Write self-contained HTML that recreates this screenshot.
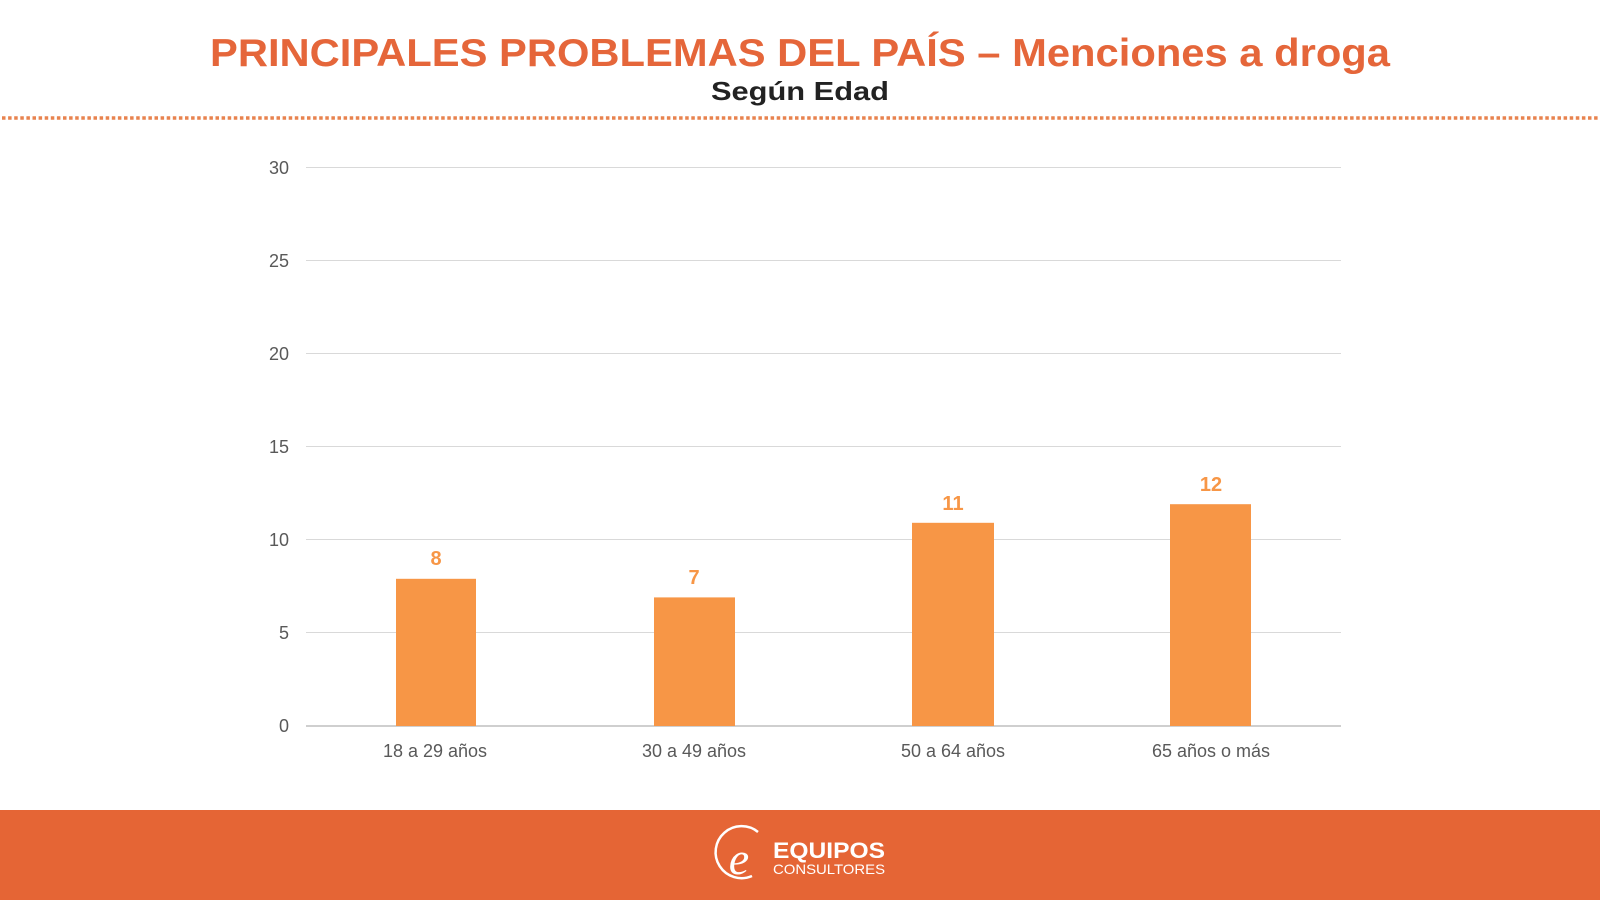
<!DOCTYPE html>
<html><head><meta charset="utf-8"><style>
html,body{margin:0;padding:0;background:#fff;}
svg{display:block;}
</style></head><body>
<svg width="1600" height="900" viewBox="0 0 1600 900" xmlns="http://www.w3.org/2000/svg" font-family="Liberation Sans, sans-serif">
<rect width="1600" height="900" fill="#fff"/>
<text x="800" y="66" text-anchor="middle" font-size="39" font-weight="bold" fill="#E5663A" textLength="1180" lengthAdjust="spacingAndGlyphs">PRINCIPALES PROBLEMAS DEL PAÍS – Menciones a droga</text>
<text x="800" y="100" text-anchor="middle" font-size="26" font-weight="bold" fill="#222" textLength="178" lengthAdjust="spacingAndGlyphs">Según Edad</text>
<line x1="2" y1="118" x2="1600" y2="118" stroke="#E8834F" stroke-width="3.5" stroke-dasharray="3.5 2.6"/>
<g stroke="#d9d9d9" stroke-width="1">
<line x1="306" y1="167.5" x2="1341" y2="167.5"/>
<line x1="306" y1="260.5" x2="1341" y2="260.5"/>
<line x1="306" y1="353.5" x2="1341" y2="353.5"/>
<line x1="306" y1="446.5" x2="1341" y2="446.5"/>
<line x1="306" y1="539.5" x2="1341" y2="539.5"/>
<line x1="306" y1="632.5" x2="1341" y2="632.5"/>
</g>
<line x1="306" y1="726" x2="1341" y2="726" stroke="#bfbfbf" stroke-width="1.5"/>
<g font-size="18" fill="#595959" text-anchor="end">
<text x="289" y="174">30</text>
<text x="289" y="267">25</text>
<text x="289" y="360">20</text>
<text x="289" y="453">15</text>
<text x="289" y="546">10</text>
<text x="289" y="639">5</text>
<text x="289" y="732">0</text>
</g>
<g fill="#F79646">
<rect x="396" y="578.8" width="80" height="147.2"/>
<rect x="654" y="597.4" width="81" height="128.6"/>
<rect x="912" y="522.8" width="82" height="203.2"/>
<rect x="1170" y="504.2" width="81" height="221.8"/>
</g>
<g font-size="20" font-weight="bold" fill="#F79646" text-anchor="middle">
<text x="436" y="565">8</text>
<text x="694" y="584">7</text>
<text x="953" y="510">11</text>
<text x="1211" y="491">12</text>
</g>
<g font-size="18" fill="#595959" text-anchor="middle">
<text x="435" y="757">18 a 29 años</text>
<text x="694" y="757">30 a 49 años</text>
<text x="953" y="757">50 a 64 años</text>
<text x="1211" y="757">65 años o más</text>
</g>
<rect x="0" y="810" width="1600" height="90" fill="#E56535"/>
<g fill="none" stroke="#fff">
<path d="M758 832 A26 26 0 1 0 752 876" stroke-width="2.5"/>
</g>
<text x="739" y="874" font-family="Liberation Serif, serif" font-style="italic" font-size="46" fill="#fff" text-anchor="middle">e</text>
<text x="773" y="858" font-size="22" font-weight="bold" fill="#fff" textLength="112" lengthAdjust="spacingAndGlyphs">EQUIPOS</text>
<text x="773" y="874" font-size="14" fill="#fff" textLength="112" lengthAdjust="spacingAndGlyphs">CONSULTORES</text>
</svg>
</body></html>
